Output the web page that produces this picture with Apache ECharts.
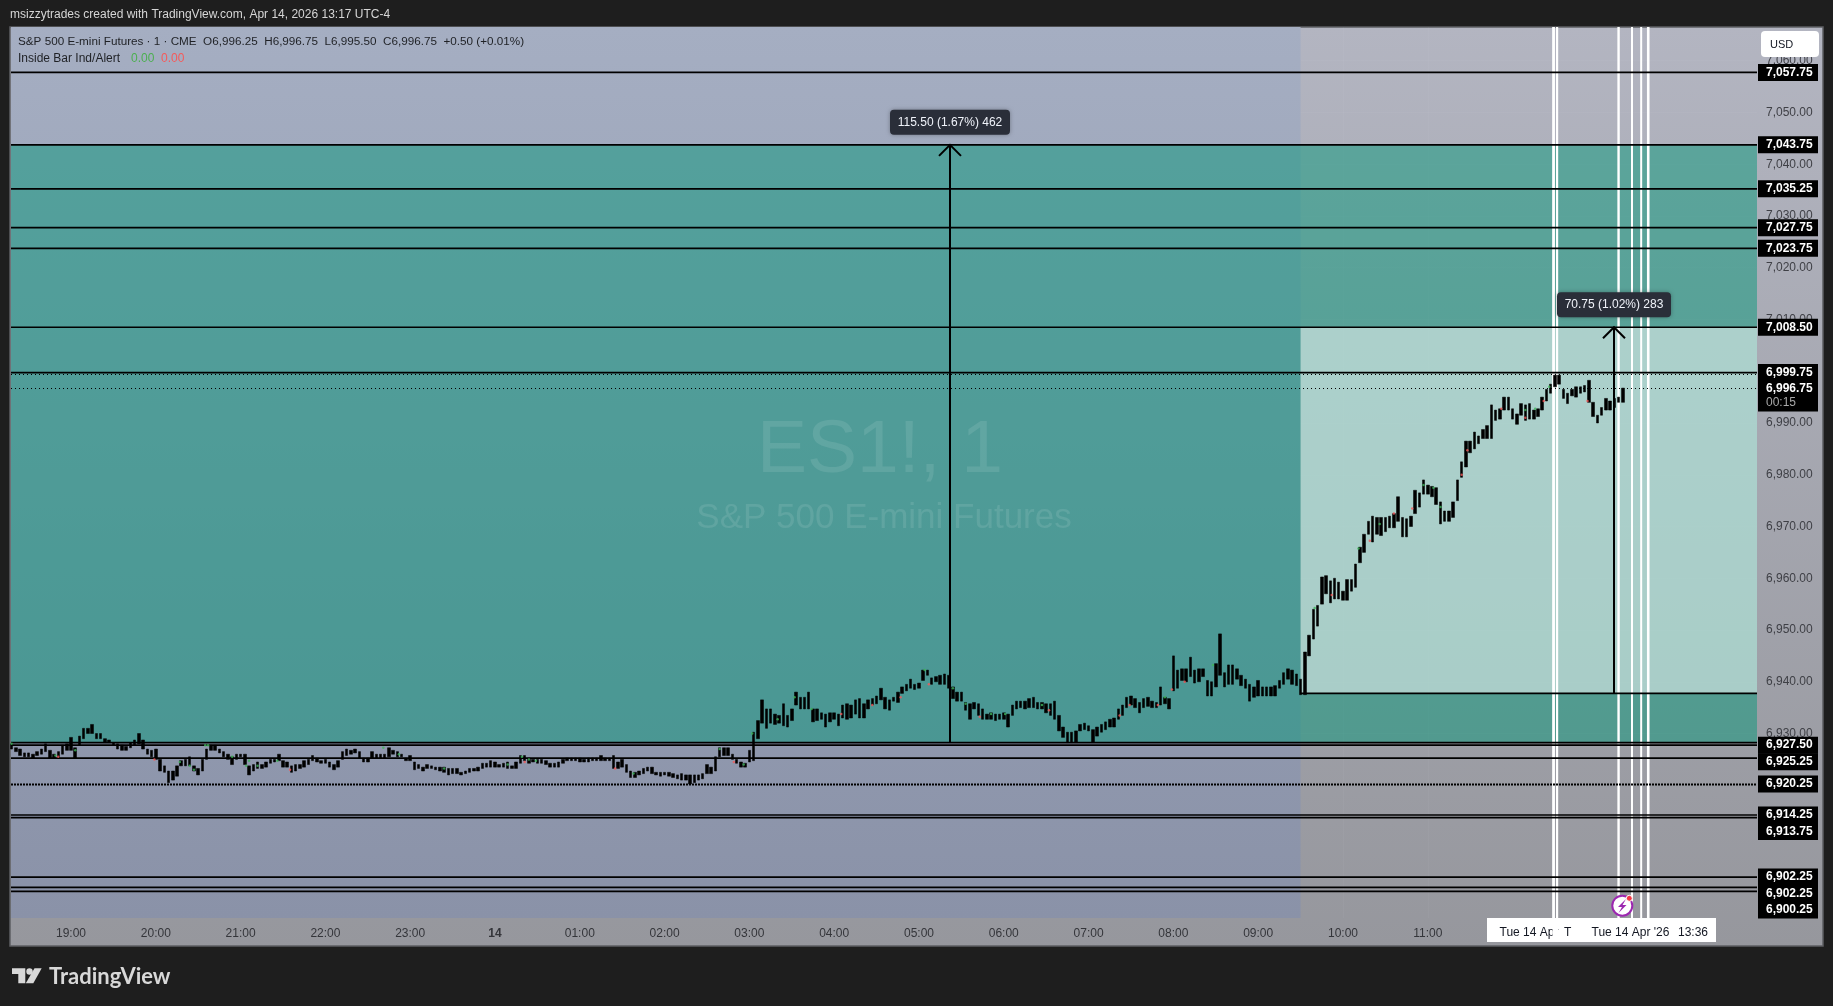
<!DOCTYPE html>
<html>
<head>
<meta charset="utf-8">
<style>html,body{margin:0;padding:0;background:#1e1e1e}#c{width:1833px;height:1006px}</style>
<script src="https://cdn.jsdelivr.net/npm/echarts@6/dist/echarts.min.js"></script>
</head>
<body>
<div id="c"></div>
<script>
// Values. Time is minutes from 19:00, one bar every 3 minutes from 18:18.
const firstBarMinute = -42, barStep = 3;
const highsEvening = [6928,6927.25,6927,6926.25,6926.25,6926,6926.5,6927,6928,6926.75,
6926,6926.5,6927.75,6928,6929.25,6927.25,6929.5,6931,6931,6931.75,
6930,6930,6929,6928.75,6928.25,6928,6927.75,6927.5,6928.25,6928.75,
6930,6928.75,6927,6926.75,6927,6925,6923.75,6922.75,6922.75,6923.75,
6924.75,6925,6925.5,6923.75,6923.25,6925,6927,6927.75,6927.75,6927,
6926.5,6926,6925.5,6926,6926,6926,6923.75,6924,6924.5,6924,
6924.5,6925,6925,6926,6924.75,6924.5,6923.75,6924,6924,6924.75,
6925,6925.75,6925.25,6924.75,6925,6924.5,6924,6924.75,6926.5,6927,
6926.75,6927,6926.5,6925.25,6925.25,6926.5,6926,6926,6926,6927.25,
6926.75,6926.5,6926];
const lowsEvening = [6927,6926.5,6925.75,6925.5,6925.5,6925.25,6925.75,6926,6926.5,6925.25,
6925.25,6925.25,6926,6926.75,6926.75,6925.25,6927.75,6929,6930,6930,
6929,6929,6928.25,6928.25,6927.75,6927,6926.75,6926.75,6927.25,6927.75,
6928,6927,6926,6925.5,6925,6922.75,6922.5,6920.5,6921,6921.75,
6923.75,6923.75,6923.75,6922.75,6922,6922.75,6925,6926.75,6926.75,6926.25,
6925.5,6925,6924,6925,6925.5,6924,6922,6922.75,6923.25,6923.25,
6923.5,6924.25,6924.5,6924.75,6923.5,6923.5,6922.5,6922.75,6923.25,6923.5,
6924,6924.75,6924.5,6924.25,6924.25,6923.5,6923,6923.5,6925,6925.75,
6926,6926.25,6925.25,6924.5,6924.5,6925.25,6925.25,6925.25,6925.25,6925.5,
6926,6925.5,6925.5];
const highsNight = [6925.25,6925.75,6924.5,6924,6923.5,6924,6923.75,6923.5,6923.5,6923.5,
6923.25,6923.25,6923.25,6922.5,6922.75,6923.25,6923.25,6923.5,6924.25,6924.25,
6924.75,6924.5,6924,6924.25,6924.5,6923.75,6924.5,6925.75,6925.75,6925.25,
6925,6925,6925,6924.75,6924.25,6924.25,6924.5,6925,6925.25,6925.25,
6925.25,6925.25,6925,6925.25,6925.25,6925.25,6925.75,6925.25,6925.25,6925.75,
6924.5,6925,6924,6922.75,6922.5,6922.75,6923.25,6923.5,6923.5,6922.5,
6922.5,6922.5,6922.5,6922.25,6922,6922.25,6922,6922,6922,6922,
6922.25,6924,6923.5,6925.5,6927.25,6927.25,6927.25,6926,6925,6924.5,
6924.25,6926.75,6930.25,6932.5,6936.5,6934.75,6934.75,6933.75,6933.5,6935.75,
6933.5,6934.75,6938,6937,6937,6938,6934.75,6934.75,6934,6933.75,
6934,6934,6933.75,6935.5,6935.75,6935.5,6936.5,6936.75,6935.75,6936.5,
6936.75,6937.25,6938.75,6937,6936.5,6937,6938];
const lowsNight = [6924.75,6924.75,6923,6923.25,6922.75,6923.25,6923.25,6923,6922.75,6922.5,
6922,6922.25,6922.25,6922,6922.25,6922.5,6922.75,6922.75,6923.25,6923.5,
6923.5,6923.5,6923.5,6923.5,6923.25,6923.25,6923.25,6924.25,6924.75,6924.25,
6924.5,6924.25,6924.25,6924,6923.5,6923.5,6923.5,6924.25,6924.75,6924.75,
6924.75,6924.5,6924.5,6924.5,6924.75,6924.75,6924.75,6924.75,6924.75,6923.25,
6923.25,6923.5,6922.5,6921.5,6921.5,6922,6922.25,6922.75,6922.25,6922,
6921.75,6922,6921.75,6921.5,6921.25,6921,6921,6920.25,6920.5,6921,
6921.25,6922.25,6922.25,6922.75,6925.5,6925.75,6925.75,6925,6924.25,6923.5,
6923.5,6924.5,6924.75,6929,6932,6931,6932,6931.75,6932,6931.5,
6931.25,6932.5,6935.5,6934.75,6934.75,6934.75,6932.25,6932.5,6932.75,6931.25,
6932.25,6932.75,6931.5,6933,6932.75,6933,6933.75,6933,6933,6934.75,
6935.5,6935.75,6936.5,6934.75,6934.5,6936.25,6936];
const highsMorning = [6939,6939.5,6940.5,6939.5,6939.75,6942.25,6942.25,6940.75,6941,6941.25,
6941.5,6941.25,6939,6938,6938,6936,6935.75,6936,6935.75,6934.75,
6933.75,6934,6933.75,6933.75,6934,6933.75,6935.5,6936.25,6936.25,6936.25,
6936.75,6937,6936,6936,6935.75,6935.75,6936.25,6933.5,6931.25,6930.25,
6930.25,6930.5,6931.75,6932,6931.5,6930.75,6931.25,6931.75,6932.25,6932.75,
6933,6934.75,6935.5,6937,6937.25,6936.75,6936,6936.75,6937,6936.25,
6936,6939,6937,6936.75,6945,6942.25,6942.5,6942.5,6944.75,6942.25,
6942.5,6942.5,6940.25,6940,6943.5,6949.25,6941.75,6943.25,6943.25,6942.5,
6941.25,6940.5,6939.5,6939,6940.25,6939,6939,6939,6939.25,6940.25,
6941.75,6942.5,6942.25,6941.5,6940.5];
const lowsMorning = [6937.75,6938.25,6938.75,6938.5,6938.75,6940.25,6941.25,6939.5,6940,6939.5,
6939.5,6938.75,6936.75,6936.25,6936.25,6934.5,6932.75,6934.75,6933.5,6932.75,
6932.75,6932.75,6932.5,6932.75,6932.75,6931.25,6933.5,6934.75,6935,6934.75,
6935,6935,6934.75,6934.75,6934,6933.5,6932.75,6930.5,6929.25,6928.25,
6928.25,6928.25,6930.5,6930.75,6930.5,6928.25,6929.5,6930.25,6930.75,6931.25,
6931.25,6932.75,6933.5,6935,6935.5,6935,6934,6935,6935.25,6935,
6935,6935.5,6935.75,6934.75,6938.25,6938.75,6940.25,6940,6941,6939.75,
6940,6941,6937.25,6937.25,6939,6941.25,6939,6939.5,6939.5,6940.5,
6939.25,6938.75,6936.25,6937,6937.25,6937.25,6937.25,6937.25,6937.25,6938.75,
6939.5,6940.5,6939.5,6939.25,6937.5];
const highsSession = [6945.75,6949,6954,6954.75,6960.25,6960.5,6959.5,6960,6959.25,6957.5,
6959.75,6959.75,6962.75,6966,6968.5,6971,6972,6971.75,6971.75,6971.75,
6972,6972.5,6975.75,6971.75,6971.5,6972,6977,6976.5,6979,6978,
6977.75,6977.5,6974.75,6973,6973,6974.75,6979,6982.5,6986.5,6986.5,
6988.25,6987.5,6988.75,6989.5,6993.5,6992.5,6992.75,6995,6995,6992.75,
6991.75,6993.75,6993.5,6993.75,6992.5,6992.75,6995,6996.5,6997.5,6999.25,
6999.25,6996.5,6995.75,6996.5,6997,6997,6997.25,6998.25,6994,6991.5,
6993,6994.75,6994.25,6994.75,6995,6996.75];
const lowsSession = [6937.5,6945,6948.25,6950.75,6955,6957,6955.25,6956,6956,6955.75,
6955.75,6957.5,6958.25,6963,6965,6968.5,6967,6968.5,6968.25,6969,
6969.75,6969.75,6971,6968,6968,6970,6972.5,6973.75,6976.25,6976.25,
6975.75,6974.25,6970.5,6971,6971,6971.75,6975,6979.5,6981.5,6984.25,
6985,6986,6987,6987,6987,6990.5,6990.75,6992.5,6992.5,6990.75,
6989.75,6991.5,6990.5,6990.75,6990.75,6991.25,6992.5,6994.25,6995.75,6997,
6997.5,6994.75,6993.75,6995.25,6995,6995.75,6996,6994,6991.25,6990,
6991.5,6992.5,6992.5,6993,6994,6994];
const greenMinutes = [-42,-11,3,77,84,87,95,97,114,124,126,132,146,221,232,264,309,319,324,329,398,459,476,482,500,512,524,604,624,633,651,661,687,774,808,880,911,926,957,964,969,1029,1036,1046];
const greenPrices = [6928,6925.75,6926.75,6924.5,6923.75,6923,6927.75,6927.75,6925.5,6923.75,6924.75,6923.75,6924.75,6927.25,6926,6923.25,6924,6925.5,6925,6924.75,6922.25,6927,6924,6930,6932.75,6937,6934.75,6942.25,6938.75,6935.75,6933.75,6933.75,6935.5,6937,6943.25,6954.25,6965.75,6970.5,6978,6977.5,6973.75,6992.5,6992.75,6997];
const redMinutes = [-9,59,155,321,385,469,545,567,587,607,643,692,742,749,769,779,788,892,919,936,949,984,988,1012,1029,1042,1073];
const redPrices = [6925.5,6925,6923,6924.5,6923.25,6924.5,6933.75,6935.5,6937,6939.5,6933.25,6934.5,6933.5,6935.5,6935.5,6938.5,6940,6956.75,6967.25,6972.5,6973.5,6980,6984.75,6992.75,6991,6994.25,6994.25];

const yTicks = [7060,7050,7040,7030,7020,7010,7000,6990,6980,6970,6960,6950,6940,6930];
const hourTicks = [0,60,120,180,240,300,360,420,480,540,600,660,720,780,840,900,960];
const hourLabels = ['19:00','20:00','21:00','22:00','23:00','14','01:00','02:00','03:00','04:00','05:00','06:00','07:00','08:00','09:00','10:00','11:00'];

const levelValues = [7057.75,7043.75,7035.25,7027.75,7023.75,7008.5,6999.75,6928.25,6927.75,6925.25,6914.25,6913.75,6902.25,6900.25,6899.5];
const dottedLevels = [6999.5,6996.75,6920.25];
const tagValues = [7057.75,7043.75,7035.25,7027.75,7023.75,7008.5,6999.75,6996.75,6927.75,6925.25,6920.25,6914.25,6913.75,6902.25,6900.25,6899.5];
const tagTexts = ['7,057.75','7,043.75','7,035.25','7,027.75','7,023.75','7,008.50','6,999.75','6,996.75','6,927.50','6,925.25','6,920.25','6,914.25','6,913.75','6,902.25','6,902.25','6,900.25'];
const lastPriceTag = '6,996.75', countdownText = '00:15';
const whiteLineMinutes = [1049,1051.5,1095,1104.5,1111,1116];
const whiteLineWidths = [2.8,2.2,2.4,2,2,2.6];
const measureMinutes = [622,1092];
const measureFrom = [6928.25,6937.75];
const measureTo = [7043.75,7008.5];
const measureTexts = ['115.50 (1.67%) 462','70.75 (1.02%) 283'];
const sessionOpenMinute = 870, sessionOpenLow = 6937.75, targetHigh = 7008.5;

const xMin = -42.45, xMax = 1192.95, yMin = 6894.35, yMax = 7066.52;
const allHighs = highsEvening.concat(highsNight, highsMorning, highsSession);
const allLows = lowsEvening.concat(lowsNight, lowsMorning, lowsSession);
const candleData = allHighs.map((h, i) => [firstBarMinute + i * barStep, allLows[i], h, allLows[i], h]);

const UI = '"Liberation Sans", Arial, sans-serif';
const grad = (a, b) => new echarts.graphic.LinearGradient(0, 0, 0, 1, [{offset: 0, color: a}, {offset: 1, color: b}]);
const zones = [
  {x0: xMin, x1: sessionOpenMinute, y0: yMin, y1: yMax, fill: grad('#a5aec2', '#8a92a8')},
  {x0: xMin, x1: xMax, y0: 6928.25, y1: 7043.75, fill: 'rgba(0,150,120,0.48)'},
  {x0: sessionOpenMinute, x1: xMax, y0: sessionOpenLow, y1: targetHigh, fill: 'rgba(255,255,255,0.5)'}
];
const txt = (text, x, y, fill, font, align, z) => ({type: 'text', z: z == null ? 100 : z, silent: true,
  style: {text, x, y, fill, font, textAlign: align || 'left', textVerticalAlign: 'middle', align: align || 'left', verticalAlign: 'middle'}});

let lastTagY = -1e9;
const option = {
  animation: false,
  backgroundColor: '#1e1e1e',
  tooltip: {show: false},
  grid: {left: 11, right: 76, top: 27, bottom: 88},
  xAxis: {type: 'value', min: xMin, max: xMax, axisLine: {show: false},
    axisTick: {show: false, customValues: hourTicks},
    splitLine: {show: true, lineStyle: {color: 'rgba(255,255,255,0.035)', width: 1}},
    axisLabel: {customValues: hourTicks, margin: 10, color: '#34353a', fontFamily: UI, fontSize: 12,
      formatter: v => { const s = hourLabels[hourTicks.indexOf(v)]; return s === '14' ? '{b|14}' : s; },
      rich: {b: {fontWeight: 'bold', fontFamily: UI, fontSize: 12, color: '#34353a'}}}},
  yAxis: {type: 'value', position: 'right', min: yMin, max: yMax, axisLine: {show: false},
    axisTick: {show: false, customValues: yTicks},
    splitLine: {show: true, lineStyle: {color: 'rgba(255,255,255,0.035)', width: 1}},
    axisLabel: {customValues: yTicks, margin: 9, color: '#3f4046', fontFamily: UI, fontSize: 12,
      formatter: v => v.toLocaleString('en-US', {minimumFractionDigits: 2, maximumFractionDigits: 2})}},
  series: [
    {type: 'custom', name: 'zones', z: 1, silent: true, data: zones.map(z => [z.x0, z.y0]),
      renderItem: (p, api) => { const z = zones[p.dataIndex];
        const a = api.coord([z.x0, z.y1]), b = api.coord([z.x1, z.y0]);
        return {type: 'rect', shape: {x: a[0], y: a[1], width: b[0] - a[0], height: b[1] - a[1]}, style: {fill: z.fill}}; }},
    {type: 'custom', name: 'white lines', z: 2, silent: true, data: whiteLineMinutes.map(m => [m, yMin]),
      renderItem: (p, api) => { const m = whiteLineMinutes[p.dataIndex];
        const a = api.coord([m, yMax]), b = api.coord([m, yMin]);
        return {type: 'line', shape: {x1: a[0], y1: a[1], x2: b[0], y2: b[1]}, style: {stroke: '#ffffff', lineWidth: whiteLineWidths[p.dataIndex]}}; }},
    {type: 'custom', name: 'levels', z: 3, silent: true, data: levelValues.map(v => [xMin, v]),
      renderItem: (p, api) => { const v = levelValues[p.dataIndex];
        const a = api.coord([xMin, v]), b = api.coord([xMax, v]);
        return {type: 'line', shape: {x1: a[0], y1: a[1], x2: b[0], y2: b[1]}, style: {stroke: '#000', lineWidth: 1.7}}; }},
    {type: 'custom', name: 'dotted levels', z: 3, silent: true, data: dottedLevels.map(v => [xMin, v]),
      renderItem: (p, api) => { const v = dottedLevels[p.dataIndex];
        const a = api.coord([xMin, v]), b = api.coord([xMax, v]), y = Math.round(a[1]) + 0.5;
        return {type: 'line', shape: {x1: a[0], y1: y, x2: b[0], y2: y},
          style: {stroke: '#000', lineWidth: v === 6920.25 ? 2 : 1, lineDash: v === 6920.25 ? [2, 1] : [1, 3]}}; }},
    {type: 'line', name: 'open line', z: 3, silent: true, symbol: 'none', data: [[sessionOpenMinute, sessionOpenLow], [xMax, sessionOpenLow]],
      lineStyle: {color: '#000', width: 1.7}},
    {type: 'custom', name: 'measures', z: 4, silent: true, data: measureMinutes.map((m, i) => [m, measureTo[i]]),
      renderItem: (p, api) => { const i = p.dataIndex;
        const t = api.coord([measureMinutes[i], measureTo[i]]), f = api.coord([measureMinutes[i], measureFrom[i]]);
        const x = Math.round(t[0]), y = t[1];
        return {type: 'group', children: [
          {type: 'line', shape: {x1: x, y1: y, x2: x, y2: f[1]}, style: {stroke: '#000', lineWidth: 2}},
          {type: 'polyline', shape: {points: [[x - 11, y + 11], [x, y], [x + 11, y + 11]]}, style: {stroke: '#000', lineWidth: 2, fill: 'none'}},
          {type: 'rect', shape: {x: x - (i ? 57 : 60), y: y - 35, width: i ? 114 : 120, height: 25, r: 4}, style: {fill: '#2a2e39', shadowBlur: 4, shadowColor: 'rgba(0,0,0,0.3)'}},
          {type: 'text', style: {text: measureTexts[i], x, y: y - 22.5, fill: '#f0f3fa', font: '12px ' + UI, textAlign: 'center', textVerticalAlign: 'middle', align: 'center', verticalAlign: 'middle'}}
        ]}; }},
    {type: 'candlestick', name: 'ES1!', z: 5, silent: true, barWidth: 3, encode: {x: 0, y: [1, 2, 3, 4]}, data: candleData,
      itemStyle: {color: '#000', color0: '#000', borderColor: '#000', borderColor0: '#000', borderWidth: 0.5}},
    {type: 'scatter', name: 'inside up', z: 6, silent: true, symbolSize: 2.5, itemStyle: {color: '#3fb45a'}, data: greenMinutes.map((m, i) => [m, greenPrices[i]])},
    {type: 'scatter', name: 'inside down', z: 6, silent: true, symbolSize: 2.5, itemStyle: {color: '#f25a5a'}, data: redMinutes.map((m, i) => [m, redPrices[i]])},
    {type: 'custom', name: 'price tags', z: 10, silent: true, data: tagValues.map(v => [xMax, v]),
      renderItem: (p, api) => { const i = p.dataIndex; if (i === 0) lastTagY = -1e9;
        const c = api.coord([xMax, tagValues[i]]); const y = Math.max(c[1], lastTagY + 16.5); lastTagY = y;
        const x = p.coordSys.x + p.coordSys.width + 1, isLast = tagTexts[i] === lastPriceTag;
        const font = 'bold 12px ' + UI;
        const kids = [{type: 'rect', shape: {x, y: y - 8.5, width: 60, height: isLast ? 31 : 17}, style: {fill: '#000'}},
          {type: 'text', style: {text: tagTexts[i], x: x + 8, y, fill: '#fff', font, textAlign: 'left', textVerticalAlign: 'middle', align: 'left', verticalAlign: 'middle'}}];
        if (isLast) kids.push({type: 'text', style: {text: countdownText, x: x + 8, y: y + 14, fill: '#a8a8a8', font: '12px ' + UI, textAlign: 'left', textVerticalAlign: 'middle', align: 'left', verticalAlign: 'middle'}});
        return {type: 'group', children: kids}; }}
  ],
  graphic: {elements: [
    {type: 'rect', z: -1, silent: true, shape: {x: 10, y: 27, width: 1813, height: 919}, style: {fill: grad('#b3b5c1', '#96979d'), stroke: '#5e5f63', lineWidth: 1.5}},
    txt('ES1!, 1', 880, 451, 'rgba(255,255,255,0.1)', '75px ' + UI, 'center', 2),
    txt('S&P 500 E-mini Futures', 884, 518, 'rgba(255,255,255,0.1)', '35px ' + UI, 'center', 2),
    txt('msizzytrades created with TradingView.com, Apr 14, 2026 13:17 UTC-4', 10, 15, '#d6d6d6', '12px ' + UI),
    txt('S&P 500 E-mini Futures \u00b7 1 \u00b7 CME  O6,996.25  H6,996.75  L6,995.50  C6,996.75  +0.50 (+0.01%)', 18, 42, '#1f2125', '11.7px ' + UI),
    txt('Inside Bar Ind/Alert', 18, 59, '#1f2125', '12px ' + UI),
    txt('0.00', 131, 59, '#4caf50', '12px ' + UI),
    txt('0.00', 161, 59, '#f55a5a', '12px ' + UI),
    {type: 'rect', z: 100, silent: true, shape: {x: 1761, y: 31, width: 58, height: 26, r: 4}, style: {fill: '#fff'}},
    txt('USD', 1770, 45, '#131722', '11px ' + UI),
    {type: 'rect', z: 100, silent: true, shape: {x: 1487, y: 918, width: 229, height: 24}, style: {fill: '#fff'}},
    txt('Tue 14 Apr', 1499.5, 933, '#131722', '12px ' + UI),
    {type: 'rect', z: 101, silent: true, shape: {x: 1552.5, y: 918, width: 5.5, height: 24}, style: {fill: '#fff'}},
    txt('T', 1564, 933, '#131722', '12px ' + UI, 'left', 102),
    {type: 'rect', z: 103, silent: true, shape: {x: 1572, y: 918, width: 14, height: 24}, style: {fill: '#fff'}},
    txt("Tue 14 Apr '26", 1591.5, 933, '#131722', '12px ' + UI, 'left', 104),
    txt('13:36', 1678, 933, '#131722', '12px ' + UI, 'left', 104),
    {type: 'circle', z: 105, silent: true, shape: {cx: 1622.3, cy: 905.7, r: 10}, style: {fill: '#fff', stroke: '#9c27b0', lineWidth: 2}},
    {type: 'polygon', z: 106, silent: true, shape: {points: [[1626, 899], [1618, 907], [1622, 907], [1618.5, 913], [1626.5, 905], [1622.5, 905]]}, style: {fill: '#9c27b0'}},
    {type: 'circle', z: 107, silent: true, shape: {cx: 1629.3, cy: 898.3, r: 3}, style: {fill: '#f23645', stroke: '#fff', lineWidth: 1}},
    {type: 'polygon', z: 100, silent: true, shape: {points: [[12, 968.3], [25.3, 968.3], [25.3, 983.3], [18.3, 983.3], [18.3, 974], [12, 974]]}, style: {fill: '#d8d8d8'}},
    {type: 'circle', z: 100, silent: true, shape: {cx: 29.5, cy: 971.5, r: 3.2}, style: {fill: '#d8d8d8'}},
    {type: 'polygon', z: 100, silent: true, shape: {points: [[34.5, 968.3], [41.7, 968.3], [33.3, 983.3], [25.8, 983.3]]}, style: {fill: '#d8d8d8'}},
    txt('TradingView', 49, 977, '#d8d8d8', 'bold 22px Lato, ' + UI)
  ]}
};
const chart = echarts.init(document.getElementById('c'), null, {renderer: 'canvas'});
chart.setOption(option);
</script>
</body>
</html>
